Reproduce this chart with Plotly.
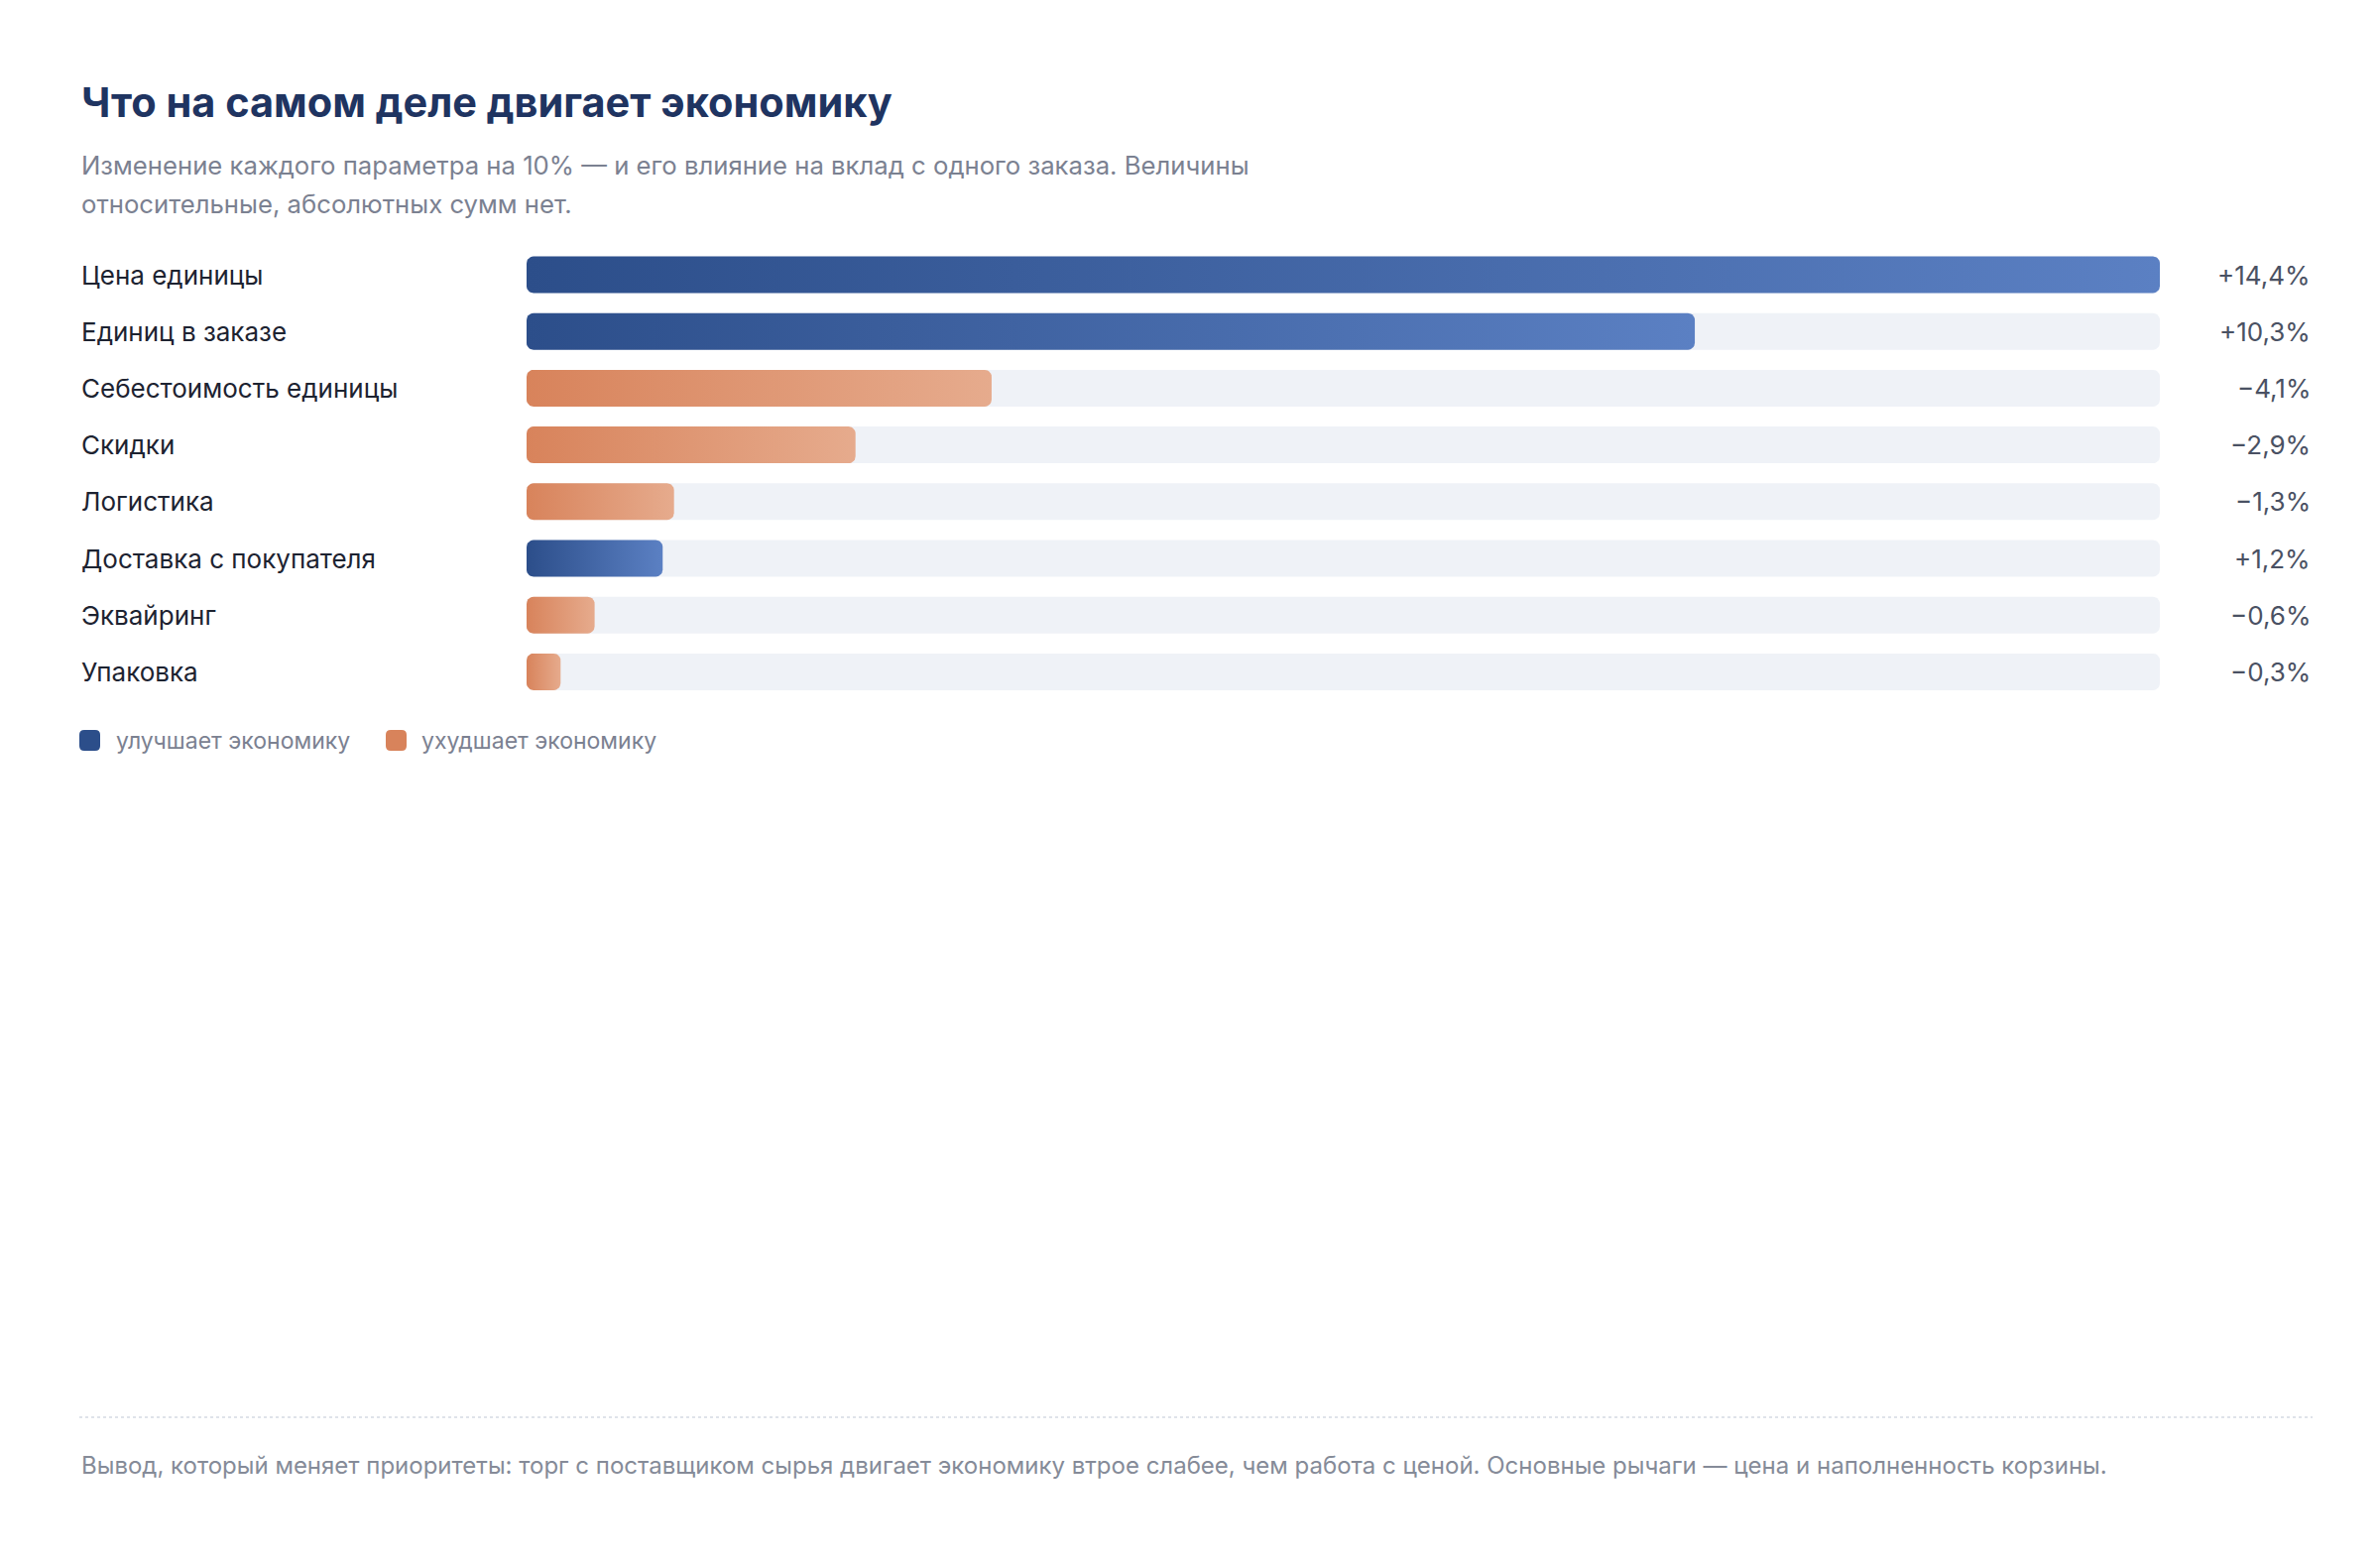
import numpy as np
import plotly.graph_objects as go

# Data
labels = [
    "Цена единицы",
    "Единиц в заказе",
    "Себестоимость единицы",
    "Скидки",
    "Логистика",
    "Доставка с покупателя",
    "Эквайринг",
    "Упаковка",
]
impact = [14.4, 10.3, -4.1, -2.9, -1.3, 1.2, -0.6, -0.3]
legend_labels = ["улучшает экономику", "ухудшает экономику"]

title = "Что на самом деле двигает экономику"
subtitle = [
    "Изменение каждого параметра на 10% — и его влияние на вклад с одного заказа. Величины",
    "относительные, абсолютных сумм нет.",
]
footer = ("Вывод, который меняет приоритеты: торг с поставщиком сырья двигает экономику "
          "втрое слабее, чем работа с ценой. Основные рычаги — цена и наполненность корзины.")

# Style
FONT = "Inter, 'Noto Sans', sans-serif"
BLUE = ("#2c4e8a", "#5b80c3")
ORANGE = ("#d8835b", "#e6ab8d")
TRACK = "#eff2f7"

W, H = 2384, 1564
OFF = 8  # default body margin of the page


def fx(p):
    return (p - OFF) / W


def fy(p):
    return 1 - (p - OFF) / H


x_left, x_right = 531, 2178
row0, row_step = 277, 57.2
bar_h = 37
radius = 7
xmax = max(abs(v) for v in impact)

px_per_x = (x_right - x_left) / xmax
px_per_y = row_step
half = bar_h / 2 / px_per_y


def rounded_bar(length, yc):
    # rounded rectangle from 0 to length, in data units
    rx = min(radius / px_per_x, length / 2)
    ry = radius / px_per_y
    t = np.linspace(0, np.pi / 2, 8)
    xs, ys = [], []
    # corners: top-right, bottom-right, bottom-left, top-left (y reversed)
    corners = [
        (length - rx, yc - half + ry, -np.pi / 2),
        (length - rx, yc + half - ry, 0),
        (rx, yc + half - ry, np.pi / 2),
        (rx, yc - half + ry, np.pi),
    ]
    for cx, cy, a0 in corners:
        xs += list(cx + rx * np.cos(a0 + t))
        ys += list(cy + ry * np.sin(a0 + t))
    xs.append(xs[0])
    ys.append(ys[0])
    return xs, ys


fig = go.Figure()

rows = list(range(len(labels)))

# background tracks
for i in rows:
    tx, ty = rounded_bar(xmax, i)
    fig.add_trace(go.Scatter(
        x=tx, y=ty, mode="lines", line=dict(width=0),
        fill="toself", fillcolor=TRACK, hoverinfo="skip", showlegend=False,
    ))

# value bars with gradient
for i, v in zip(rows, impact):
    c0, c1 = BLUE if v > 0 else ORANGE
    bx, by = rounded_bar(abs(v), i)
    fig.add_trace(go.Scatter(
        x=bx, y=by, mode="lines", line=dict(width=0),
        fill="toself",
        fillgradient=dict(type="horizontal", colorscale=[[0, c0], [1, c1]]),
        name=labels[i], hoverinfo="skip", showlegend=False,
    ))


def fmt(v):
    sign = "+" if v > 0 else "−"
    return f"{sign}{abs(v):.1f}".replace(".", ",") + "%"


annotations = []
for i, (lab, v) in enumerate(zip(labels, impact)):
    annotations.append(dict(
        x=fx(80), xref="paper", y=i, yref="y", text=lab, showarrow=False,
        xanchor="left", yanchor="middle",
        font=dict(family=FONT, size=26, color="#1d2331"),
    ))
    annotations.append(dict(
        x=fx(2332), xref="paper", y=i, yref="y", text=fmt(v), showarrow=False,
        xanchor="right", yanchor="middle",
        font=dict(family=FONT, size=26, color="#4a5163"),
    ))

annotations.append(dict(
    x=fx(80), y=fy(103), xref="paper", yref="paper", text=title, showarrow=False,
    xanchor="left", yanchor="middle",
    font=dict(family=FONT, size=41.5, color="#1f3461", weight=700),
))
for line, yy in zip(subtitle, [166, 205]):
    annotations.append(dict(
        x=fx(80), y=fy(yy), xref="paper", yref="paper", text=line, showarrow=False,
        xanchor="left", yanchor="middle",
        font=dict(family=FONT, size=25.7, color="#7b8191"),
    ))

# legend
shapes = []
legend_pos = [(80, 115, BLUE[0]), (389, 423, ORANGE[0])]
for (sx, tx, col), lab in zip(legend_pos, legend_labels):
    s0, s1, r = sx, sx + 21, 5
    y0, y1 = 736, 757
    path = (f"M {fx(s0 + r)},{fy(y0)} L {fx(s1 - r)},{fy(y0)} "
            f"Q {fx(s1)},{fy(y0)} {fx(s1)},{fy(y0 + r)} L {fx(s1)},{fy(y1 - r)} "
            f"Q {fx(s1)},{fy(y1)} {fx(s1 - r)},{fy(y1)} L {fx(s0 + r)},{fy(y1)} "
            f"Q {fx(s0)},{fy(y1)} {fx(s0)},{fy(y1 - r)} L {fx(s0)},{fy(y0 + r)} "
            f"Q {fx(s0)},{fy(y0)} {fx(s0 + r)},{fy(y0)} Z")
    shapes.append(dict(type="path", path=path, xref="paper", yref="paper",
                       fillcolor=col, line=dict(width=0)))
    annotations.append(dict(
        x=fx(tx), y=fy(747), xref="paper", yref="paper", text=lab, showarrow=False,
        xanchor="left", yanchor="middle",
        font=dict(family=FONT, size=23, color="#7b8191"),
    ))

# separator + footer
shapes.append(dict(type="line", xref="paper", yref="paper",
                   x0=fx(80), x1=fx(2332), y0=fy(1429), y1=fy(1429),
                   line=dict(color="#dfe3ea", width=2, dash="dot")))
annotations.append(dict(
    x=fx(80), y=fy(1477), xref="paper", yref="paper", text=footer, showarrow=False,
    xanchor="left", yanchor="middle",
    font=dict(family=FONT, size=24, color="#858b98"),
))

fig.update_layout(
    width=W, height=H,
    margin=dict(l=0, r=0, t=0, b=0),
    paper_bgcolor="white", plot_bgcolor="white",
    xaxis=dict(domain=[fx(x_left), fx(x_right)], range=[0, xmax], visible=False, fixedrange=True),
    yaxis=dict(domain=[fy(row0 + 7.5 * row_step), fy(row0 - 0.5 * row_step)],
               range=[len(labels) - 0.5, -0.5], visible=False, fixedrange=True),
    annotations=annotations,
    shapes=shapes,
    showlegend=False,
)

fig.write_html("out.html")
